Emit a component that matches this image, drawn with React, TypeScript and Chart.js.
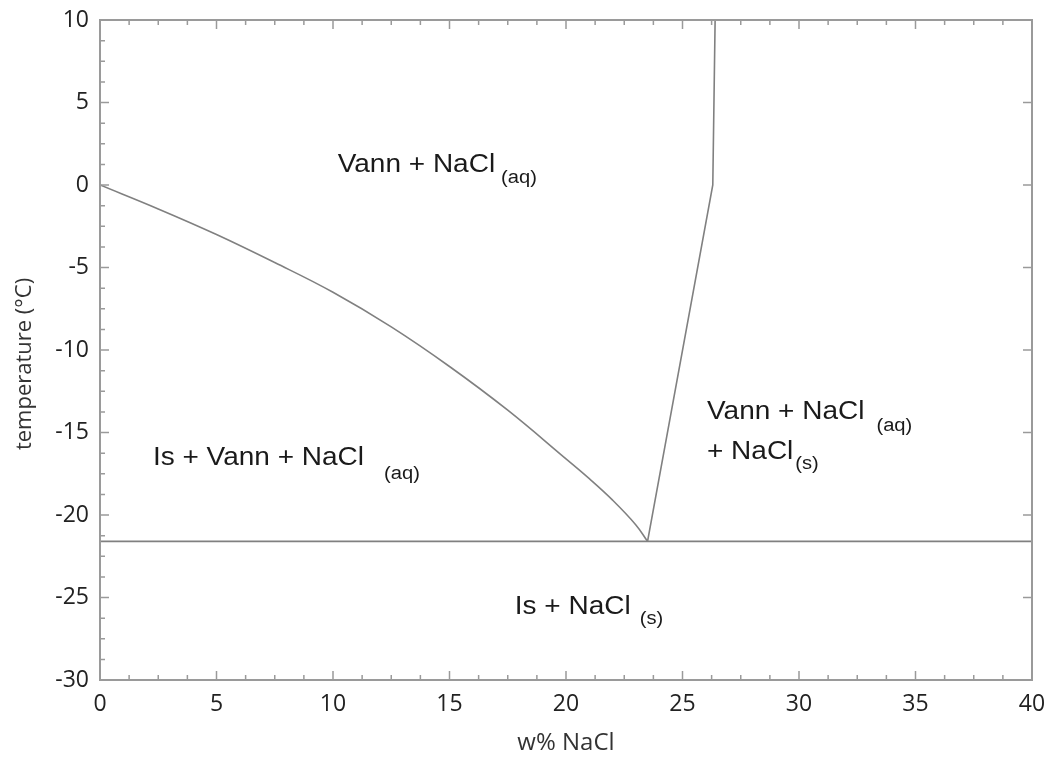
import React, { useEffect, useRef } from "react";
import { Chart, registerables } from "chart.js";

Chart.register(...registerables);

// Liquidus (ice + brine boundary)
const liquidusX = [0, 2.5, 5, 7.5, 10, 12.5, 15, 17.5, 20, 21, 22, 23, 23.5];
const liquidusY = [0, -1.45, -3.0, -4.7, -6.5, -8.6, -11.0, -13.65, -16.6, -17.8, -19.1, -20.6, -21.6];
// Salt solubility boundary
const solubilityX = [23.5, 26.3, 26.4];
const solubilityY = [-21.6, 0, 10];
// Eutectic line
const eutecticX = [0, 40];
const eutecticY = [-21.6, -21.6];

const xMin = 0, xMax = 40, xStep = 5, xMinor = 1.25;
const yMin = -30, yMax = 10, yStep = 5, yMinor = 1.25;

const yTitle = "temperature (°C)";
const xTitle = "w% NaCl";

// Region labels
const regionText = ["Vann + NaCl", "Is + Vann + NaCl", "Vann + NaCl", "+ NaCl", "Is + NaCl"];
const regionSub = ["(aq)", "(aq)", "(aq)", "(s)", "(s)"];
const regionX = [10.2, 2.27, 26.05, 26.05, 17.8];
const regionY = [0.79, -16.97, -14.2, -16.6, -26.0];
const subGap = [6, 20, 12, 2, 9];
const subDrop = [11, 14, 12, 10, 10];

const toPts = (xs: number[], ys: number[]) => xs.map((x, i) => ({ x, y: ys[i] }));

const LINE = "#808080";
const FRAME = "#9a9a9a";

const framePlugin = {
  id: "frameTicks",
  afterDraw(chart: any) {
    const { ctx, chartArea: a, scales } = chart;
    const xs = scales.x, ys = scales.y;
    ctx.save();
    ctx.strokeStyle = FRAME;
    ctx.lineWidth = 2;
    ctx.strokeRect(a.left, a.top, a.right - a.left, a.bottom - a.top);
    ctx.lineWidth = 1.5;
    ctx.beginPath();
    for (let v = xMin; v <= xMax + 1e-9; v += xMinor) {
      const major = Math.abs(v / xStep - Math.round(v / xStep)) < 1e-6;
      const px = xs.getPixelForValue(v);
      const len = major ? 9 : 5;
      ctx.moveTo(px, a.bottom);
      ctx.lineTo(px, a.bottom - len);
      ctx.moveTo(px, a.top);
      ctx.lineTo(px, a.top + len);
    }
    for (let v = yMin; v <= yMax + 1e-9; v += yMinor) {
      const major = Math.abs(v / yStep - Math.round(v / yStep)) < 1e-6;
      const py = ys.getPixelForValue(v);
      const len = major ? 9 : 5;
      ctx.moveTo(a.left, py);
      ctx.lineTo(a.left + len, py);
      if (major) {
        ctx.moveTo(a.right, py);
        ctx.lineTo(a.right - len, py);
      }
    }
    ctx.stroke();

    // y-axis title
    ctx.save();
    ctx.fillStyle = "#333";
    ctx.font = "22px 'Open Sans', sans-serif";
    ctx.textAlign = "center";
    ctx.textBaseline = "middle";
    ctx.translate(25, (a.top + a.bottom) / 2 + 14);
    ctx.rotate(-Math.PI / 2);
    ctx.fillText(yTitle, 0, 0);
    ctx.restore();

    // region labels
    ctx.fillStyle = "#1a1a1a";
    ctx.textBaseline = "alphabetic";
    ctx.textAlign = "left";
    const sx = 1.12;
    regionText.forEach((t, i) => {
      const px = xs.getPixelForValue(regionX[i]);
      const py = ys.getPixelForValue(regionY[i]);
      ctx.save();
      ctx.translate(px, py);
      ctx.scale(sx, 1);
      ctx.font = "25px 'Liberation Sans', Arial, sans-serif";
      ctx.fillText(t, 0, 0);
      const w = ctx.measureText(t).width * sx;
      ctx.restore();
      ctx.save();
      ctx.translate(px + w + subGap[i], py + subDrop[i]);
      ctx.scale(sx, 1);
      ctx.font = "18px 'Liberation Sans', Arial, sans-serif";
      ctx.fillText(regionSub[i], 0, 0);
      ctx.restore();
    });
    ctx.restore();
  },
};

export default function App() {
  const ref = useRef<HTMLCanvasElement | null>(null);
  useEffect(() => {
    document.body.style.margin = "0";
    const canvas = ref.current;
    if (!canvas) return;
    const ds = (xs: number[], ys: number[]) => ({
      data: toPts(xs, ys),
      showLine: true,
      borderColor: LINE,
      borderWidth: 1.6,
      pointRadius: 0,
      fill: false,
    });
    const chart = new Chart(canvas, {
      type: "scatter",
      data: {
        datasets: [
          { ...ds(liquidusX, liquidusY), tension: 0.4 },
          { ...ds(solubilityX, solubilityY), tension: 0 },
          { ...ds(eutecticX, eutecticY), tension: 0 },
        ],
      },
      options: {
        animation: false,
        responsive: false,
        maintainAspectRatio: false,
        layout: { padding: { top: 20, right: 14, left: 0, bottom: 0 } },
        plugins: { legend: { display: false }, tooltip: { enabled: false } },
        scales: {
          x: {
            type: "linear",
            min: xMin,
            max: xMax,
            ticks: {
              stepSize: xStep,
              color: "#222",
              padding: 11,
              maxRotation: 0,
              font: { family: "'Open Sans', sans-serif", size: 23 },
            },
            grid: { display: false, drawTicks: false },
            border: { display: false },
            title: {
              display: true,
              text: xTitle,
              color: "#333",
              font: { family: "'Open Sans', sans-serif", size: 24 },
              padding: { top: 1, bottom: 0 },
            },
            afterFit: (s: any) => {
              s.height = 78;
              s.paddingLeft = 0;
              s.paddingRight = 0;
            },
          },
          y: {
            type: "linear",
            min: yMin,
            max: yMax,
            ticks: {
              stepSize: yStep,
              color: "#222",
              padding: 11,
              font: { family: "'Open Sans', sans-serif", size: 23 },
            },
            grid: { display: false, drawTicks: false },
            border: { display: false },
            title: { display: false },
            afterFit: (s: any) => {
              s.width = 100;
              s.paddingTop = 0;
              s.paddingBottom = 0;
            },
          },
        },
      },
      plugins: [framePlugin],
    });
    return () => chart.destroy();
  }, []);
  return (
    <div style={{ width: 1046, height: 758, background: "#fff" }}>
      <canvas ref={ref} width={1046} height={758} style={{ display: "block" }} />
    </div>
  );
}
